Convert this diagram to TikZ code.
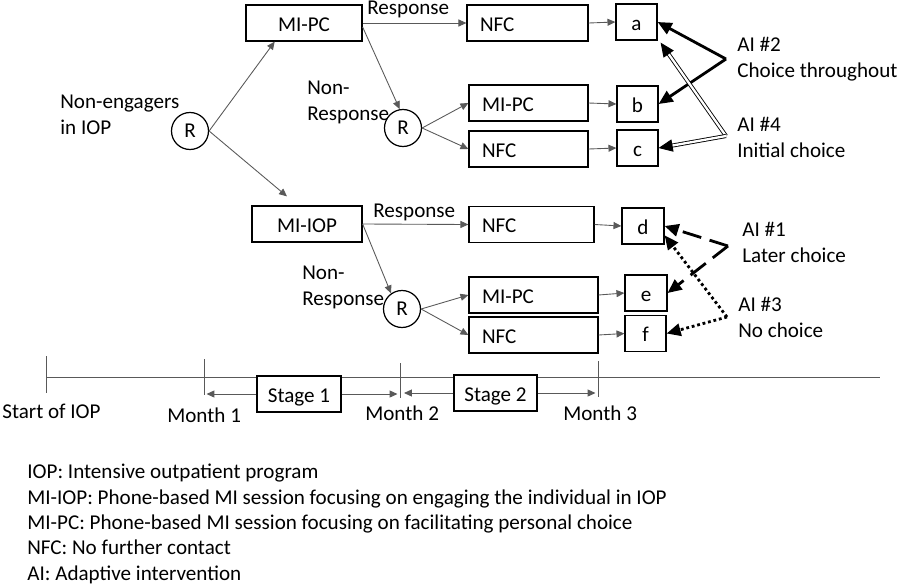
\documentclass[tikz,border=0pt]{standalone}
\usepackage{fontspec}
\setmainfont{Carlito}
\usepackage{tikz}
\usetikzlibrary{positioning,calc,shapes,arrows.meta}

\tikzset{
  box/.style={draw, line width=0.7pt, minimum height=7.2mm, inner sep=1pt, text height=9.2pt, text depth=0pt},
  colbox/.style={box, align=left, inner xsep=2.6mm, text width=#1},
  rnode/.style={circle, draw, line width=0.7pt, minimum size=7.4mm, inner sep=0pt},
  lbl/.style={inner sep=0pt, align=left, anchor=base west},
  flow/.style={draw=black!65, line width=0.5pt, -{Triangle[length=4.5pt,width=4pt]}},
  ai/.style={line width=1.6pt, -{Triangle[length=8pt,width=7pt]}},
}

\begin{document}
\begin{tikzpicture}[x=0.2mm, y=-0.2mm, font=\fontsize{12}{14.4}\selectfont]
\useasboundingbox (0,0) rectangle (900,585);

% first stage, top branch (multi-line labels sit on their last baseline)
\node[rnode] (r1) at (190,131) {R};
\node[lbl] (ne) at (60,134) {Non-engagers\\in IOP};
\node[box, minimum width=23.2mm] (pc1) at (304,23) {MI-PC};
\node[colbox=19mm] (nfc1) at (527.5,23) {NFC};
\node[box, minimum width=8.2mm] (a) at (636.5,22) {a};
\node[rnode] (r2) at (403,128) {R};
\node[colbox=18.6mm] (pc2) at (528.5,103) {MI-PC};
\node[colbox=18.6mm] (nfc2) at (528.5,149) {NFC};
\node[box, minimum width=8.2mm] (b) at (637.5,104) {b};
\node[box, minimum width=8.2mm] (c) at (637.5,148) {c};
\node[lbl] (resp1) at (367,14) {Response};
\node[lbl] (nresp1) at (307,120) {Non-\\Response};

\draw[flow] (r1.east) -- ($(pc1.south west)!0.25!(pc1.south east)$);
\draw[flow] (pc1.east) -- (nfc1.west);
\draw[flow] ($(pc1.east)+(0,4)$) -- (r2.100);
\draw[flow] (r2.east) -- (pc2.west);
\draw[flow] (r2.east) -- (nfc2.west);
\draw[flow] (nfc1.east) -- (a.west);
\draw[flow] (pc2.east) -- (b.west);
\draw[flow] (nfc2.east) -- (c.west);

% first stage, lower branch
\node[box, minimum width=22mm] (iop) at (307,224) {MI-IOP};
\node[colbox=19.8mm] (nfc3) at (531.5,224.5) {NFC};
\node[box, minimum width=8.4mm] (d) at (643,226) {d};
\node[rnode] (r3) at (402,309) {R};
\node[colbox=20.6mm] (pc4) at (533.5,295) {MI-PC};
\node[colbox=20.6mm] (nfc4) at (533.5,335) {NFC};
\node[box, minimum width=8.4mm] (e) at (646,293) {e};
\node[box, minimum width=8.2mm] (f) at (645.5,333.5) {f};
\node[lbl] (resp2) at (373,217) {Response};
\node[lbl] (nresp2) at (302,305) {Non-\\Response};

\draw[flow] (r1.east) -- ($(iop.north west)!0.32!(iop.north east)+(0,-9)$);
\draw[flow] (iop.east) -- (nfc3.west);
\draw[flow] (iop.east) -- (r3.125);
\draw[flow] (r3.east) -- (pc4.west);
\draw[flow] (r3.east) -- (nfc4.west);
\draw[flow] (nfc3.east) -- (d.west);
\draw[flow] (pc4.east) -- (e.west);
\draw[flow] (nfc4.east) -- (f.west);

% adaptive interventions
\coordinate (ai2) at (726,59);
\coordinate (ai4) at (726,136);
\coordinate (ai1) at (728,246);
\coordinate (ai3) at (727,317);
\node[lbl] (l2) at (737,77) {AI \#2\\Choice throughout};
\node[lbl] (l4) at (737,157) {AI \#4\\Initial choice};
\node[lbl] (l1) at (742,262) {AI \#1\\Later choice};
\node[lbl] (l3) at (738,337) {AI \#3\\No choice};

\draw[ai] (ai2) -- (a.east);
\draw[ai] (ai2) -- (b.east);
\draw[ai, line width=0.5pt, double, double distance=1.3pt] (ai4) -- ($(a.south east)+(3,2)$);
\draw[ai, line width=0.5pt, double, double distance=1.3pt] (ai4) -- (c.east);
\draw[ai, dash pattern=on 11pt off 5pt] (ai1) -- (d.east);
\draw[ai, dash pattern=on 11pt off 5pt] (ai1) -- (e.east);
\draw[ai, dash pattern=on 1.6pt off 1.6pt] (ai3) -- ($(d.east)!0.5!(d.south east)$);
\draw[ai, dash pattern=on 1.6pt off 1.6pt] (ai3) -- (f.east);

% time line
\coordinate (t0) at (46,377);
\coordinate (tend) at (880,377);
\coordinate (m1) at (204,377);
\coordinate (m2) at (400,377);
\coordinate (m3) at (598,377);
\draw[draw=black!65, line width=0.5pt] (t0) -- (tend);
\draw[draw=black!65, line width=0.5pt] ($(t0)+(0,-21)$) -- ($(t0)+(0,16)$);
\draw[draw=black!65, line width=0.5pt] ($(m1)+(0,-18)$) -- ($(m1)+(0,18)$);
\draw[draw=black!65, line width=0.5pt] ($(m2)+(0,-14)$) -- ($(m2)+(0,21)$);
\draw[draw=black!65, line width=0.5pt] ($(m3)+(0,-16)$) -- ($(m3)+(0,20)$);
\node[box, fill=white, minimum width=16.8mm] (s1) at (299,394) {Stage 1};
\node[box, fill=white, minimum width=16.6mm] (s2) at (495.5,393) {Stage 2};
\draw[flow, shorten >=0.5mm] (s1.west) -- (s1.west -| m1);
\draw[flow, shorten >=0.5mm] (s1.east) -- (s1.east -| m2);
\draw[flow, shorten >=0.8mm] (s2.west) -- (s2.west -| m2);
\draw[flow, shorten >=0.5mm] (s2.east) -- (s2.east -| m3);
\node[lbl] (st) at (2,418) {Start of IOP};
\node[lbl] (mo1) at (167,422) {Month 1};
\node[lbl] (mo2) at (365,420) {Month 2};
\node[lbl] (mo3) at (563,420) {Month 3};

% legend
\node[lbl] (key) at (27,580) {IOP: Intensive outpatient program\\
  MI-IOP: Phone-based MI session focusing on engaging the individual in IOP\\
  MI-PC: Phone-based MI session focusing on facilitating personal choice\\
  NFC: No further contact\\
  AI: Adaptive intervention};
\end{tikzpicture}
\end{document}
